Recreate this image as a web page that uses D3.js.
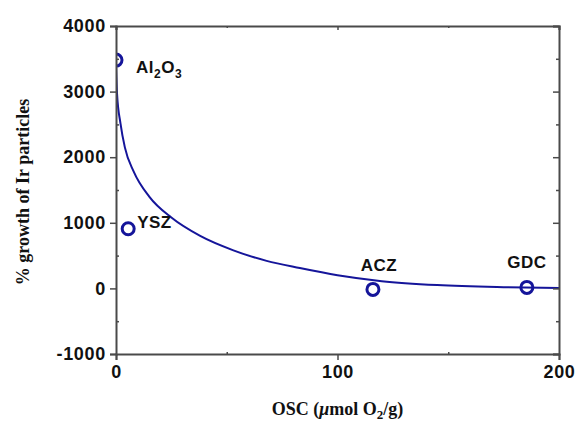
<!DOCTYPE html>
<html>
<head>
<meta charset="utf-8">
<script src="https://cdn.jsdelivr.net/npm/d3@7"></script>
<style>
  body { margin: 0; background: #fff; }
  svg { display: block; }
</style>
</head>
<body>
<script>
// supports and their measured points
var materials = ['Al2O3', 'YSZ', 'ACZ', 'GDC']
var oscValues = [0, 5.5, 116, 185.5]
var growthValues = [3480, 910, -15, 15]

// fitted curve
var fitOsc = [0, 0.5, 2, 4, 8, 15, 25, 38, 53, 68, 83, 100, 120, 145, 175, 200]
var fitGrowth = [3420, 2950, 2520, 2150, 1780, 1400, 1080, 800, 580, 420, 310, 200, 110, 50, 18, 5]

var xTicks = [0, 100, 200]
var xMinor = [50, 150]
var yTicks = [-1000, 0, 1000, 2000, 3000, 4000]
var yMinor = [-500, 500, 1500, 2500, 3500]

var W = 579, H = 422
var m = {left: 116, right: 20, top: 26, bottom: 68}
var blue = '#15159a'
var axisCol = '#4a4a4a'

var svg = d3.select('body').append('svg')
  .attr('width', W).attr('height', H)

var x = d3.scaleLinear().domain([0, 200]).range([m.left, W - m.right])
var y = d3.scaleLinear().domain([-1000, 4000]).range([H - m.bottom, m.top])

// plain hyphen for negatives, like the original
var fmt = function(d){ return d < 0 ? '-' + Math.abs(d) : String(d) }

svg.append('defs').append('clipPath').attr('id', 'plot')
  .append('rect')
  .attr('x', x(0)).attr('y', y(4000))
  .attr('width', x(200) - x(0)).attr('height', y(-1000) - y(4000))

function styleAxis(g){
  g.select('.domain').attr('stroke', axisCol).attr('stroke-width', 2)
  g.selectAll('.tick line').attr('stroke', axisCol).attr('stroke-width', 1.5)
  g.selectAll('text')
    .attr('fill', '#111')
    .style('font-family', '"Liberation Sans", Arial, sans-serif')
    .style('font-weight', 'bold')
    .style('font-size', '18px')
    .style('letter-spacing', '0.7px')
}

// fit curve
var fit = d3.zip(fitOsc, fitGrowth)
svg.append('path')
  .datum(fit)
  .attr('clip-path', 'url(#plot)')
  .attr('fill', 'none')
  .attr('stroke', blue)
  .attr('stroke-width', 2)
  .attr('d', d3.line().x(function(d){ return x(d[0]) }).y(function(d){ return y(d[1]) }).curve(d3.curveMonotoneX))

// points
var pts = d3.zip(materials, oscValues, growthValues)
svg.append('g').attr('clip-path', 'url(#plot)')
  .selectAll('circle').data(pts).enter().append('circle')
  .attr('cx', function(d){ return x(d[1]) })
  .attr('cy', function(d){ return y(d[2]) })
  .attr('r', 6)
  .attr('fill', 'none')
  .attr('stroke', blue)
  .attr('stroke-width', 3)

// bottom
svg.append('g').attr('transform', 'translate(0,' + y(-1000) + ')')
  .call(d3.axisBottom(x).tickValues(xTicks).tickSizeOuter(0).tickSize(6).tickPadding(5).tickFormat(fmt))
  .call(styleAxis)
svg.append('g').attr('transform', 'translate(0,' + y(-1000) + ')')
  .call(d3.axisTop(x).tickValues(xMinor).tickSize(2).tickFormat(''))
  .call(styleAxis).select('.domain').remove()

// top
svg.append('g').attr('transform', 'translate(0,' + y(4000) + ')')
  .call(d3.axisBottom(x).tickValues(xTicks).tickSizeOuter(0).tickSize(4).tickFormat(''))
  .call(styleAxis)
svg.append('g').attr('transform', 'translate(0,' + y(4000) + ')')
  .call(d3.axisBottom(x).tickValues(xMinor).tickSize(2).tickFormat(''))
  .call(styleAxis).select('.domain').remove()

// left
svg.append('g').attr('transform', 'translate(' + x(0) + ',0)')
  .call(d3.axisLeft(y).tickValues(yTicks).tickSizeOuter(0).tickSize(6).tickPadding(4).tickFormat(fmt))
  .call(styleAxis)
svg.append('g').attr('transform', 'translate(' + x(0) + ',0)')
  .call(d3.axisRight(y).tickValues(yMinor).tickSize(3).tickFormat(''))
  .call(styleAxis).select('.domain').remove()

// right
svg.append('g').attr('transform', 'translate(' + x(200) + ',0)')
  .call(d3.axisLeft(y).tickValues(yTicks).tickSizeOuter(0).tickSize(6).tickFormat(''))
  .call(styleAxis)
svg.append('g').attr('transform', 'translate(' + x(200) + ',0)')
  .call(d3.axisLeft(y).tickValues(yMinor).tickSize(3).tickFormat(''))
  .call(styleAxis).select('.domain').remove()

// point labels
var lbl = svg.append('g')
  .style('font-family', '"Liberation Sans", Arial, sans-serif')
  .style('font-weight', 'bold')
  .style('font-size', '17px')
  .style('letter-spacing', '0.5px')
  .attr('fill', '#111')

var al = lbl.append('text').attr('x', x(0) + 20).attr('y', y(growthValues[0]) + 13)
al.append('tspan').text('Al')
al.append('tspan').attr('dy', 5).style('font-size', '12px').text('2')
al.append('tspan').attr('dy', -5).text('O')
al.append('tspan').attr('dy', 5).style('font-size', '12px').text('3')

lbl.append('text').attr('x', x(oscValues[1]) + 9).attr('y', y(growthValues[1]) - 1).text('YSZ')
lbl.append('text').attr('x', x(oscValues[2]) + 6).attr('y', y(growthValues[2]) - 18)
  .attr('text-anchor', 'middle').text('ACZ')
lbl.append('text').attr('x', x(oscValues[3])).attr('y', y(growthValues[3]) - 19)
  .attr('text-anchor', 'middle').text('GDC')

// axis titles
var xt = svg.append('text')
  .attr('x', x(100)).attr('y', 415)
  .attr('text-anchor', 'middle')
  .style('font-family', '"Liberation Serif", "Times New Roman", serif')
  .style('font-weight', 'bold')
  .style('font-size', '18px')
  .attr('fill', '#111')
xt.append('tspan').text('OSC (')
xt.append('tspan').style('font-style', 'italic').text('\u03bc')
xt.append('tspan').text('mol O')
xt.append('tspan').attr('dy', 4).style('font-size', '13px').text('2')
xt.append('tspan').attr('dy', -4).text('/g)')

svg.append('text')
  .attr('transform', 'translate(29,' + ((y(4000) + y(-1000)) / 2 + 2) + ') rotate(-90)')
  .attr('text-anchor', 'middle')
  .style('font-family', '"Liberation Serif", "Times New Roman", serif')
  .style('font-weight', 'bold')
  .style('font-size', '18px')
  .attr('fill', '#111')
  .text('% growth of Ir particles')
</script>
</body>
</html>
